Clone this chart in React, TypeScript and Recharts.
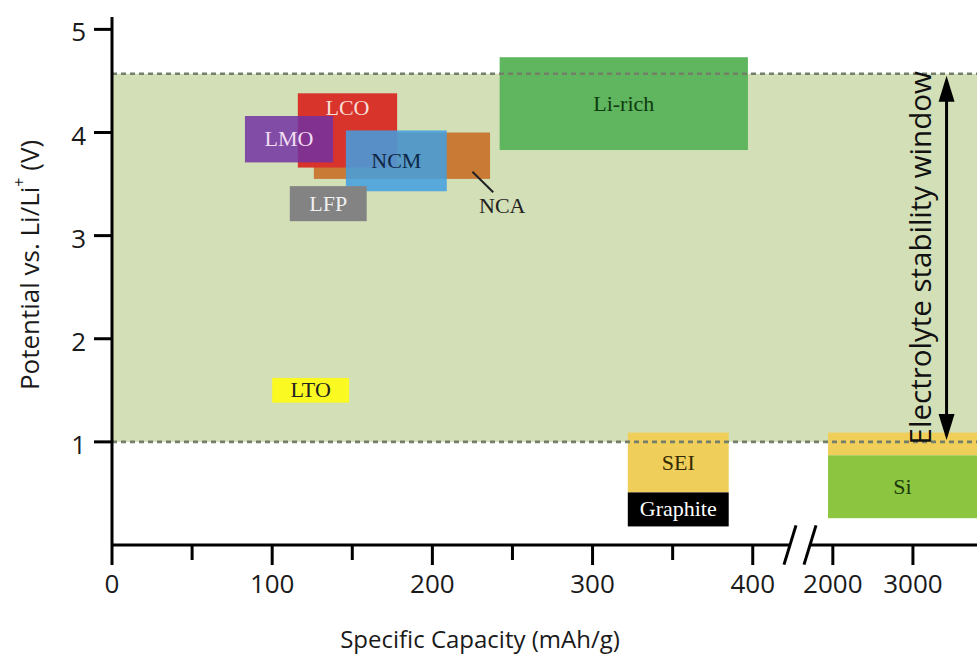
import React from 'react';
import { ComposedChart, XAxis, YAxis, ReferenceArea, ReferenceLine } from 'recharts';

// electrode materials: capacity range (mAh/g) and potential range (V vs Li/Li+)
const boxNames = ['NCA', 'LCO', 'LMO', 'NCM', 'LFP', 'Li-rich', 'LTO', 'SEI', 'Graphite', 'Si-SEI', 'Si'];
const capFrom = [126, 116, 83, 146, 111, 242, 100, 322, 322, 1940, 1940];
const capTo = [236, 178, 138, 209, 159, 397, 148, 385, 385, 3800, 3800];
const voltFrom = [3.55, 3.66, 3.71, 3.43, 3.14, 3.83, 1.38, 0.51, 0.18, 0.87, 0.26];
const voltTo = [4.0, 4.38, 4.16, 4.02, 3.48, 4.73, 1.62, 1.09, 0.51, 1.09, 0.87];

const windowVolts = [1.0, 4.57];
const yTicks = [1, 2, 3, 4, 5];
const xMajor = [0, 100, 200, 300, 400, 2000, 3000];
const xMinor = [50, 150, 250, 350];
const arrowCap = 3420;
const ncaLeader = [
  { cap: 225, v: 3.62 },
  { cap: 238, v: 3.42 },
];

// broken axis: 0-400 linear, then 2000+ compressed 20x
const toAxis = (c: number) => (c <= 400 ? c : 450 + (c - 2000) / 20);
const X_MAX = toAxis(3800);

const sans = '"Open Sans", "DejaVu Sans", sans-serif';
const serif = '"Liberation Serif", "DejaVu Serif", serif';

const boxStyle: Record<string, { fill: string; opacity?: number; label?: string; color?: string; top?: boolean }> = {
  NCA: { fill: '#c97b36' },
  LCO: { fill: '#d8342b', label: 'LCO', color: '#f8dcd6', top: true },
  LMO: { fill: '#7232a2', opacity: 0.85, label: 'LMO', color: '#f1dcf2' },
  NCM: { fill: '#42a0e2', opacity: 0.85, label: 'NCM', color: '#0d2745' },
  LFP: { fill: '#838383', label: 'LFP', color: '#f0f0f0' },
  'Li-rich': { fill: '#5fb65f', label: 'Li-rich', color: '#0f3a10' },
  LTO: { fill: '#fafa22', label: 'LTO', color: '#222' },
  SEI: { fill: '#efcf5a', label: 'SEI', color: '#352900' },
  Graphite: { fill: '#000', label: 'Graphite', color: '#fff' },
  'Si-SEI': { fill: '#efcf5a' },
  Si: { fill: '#8cc640', label: 'Si', color: '#1c3a0c' },
};

const majorLabel = new Map(xMajor.map((c) => [toAxis(c), c]));
const xTicks = [...xMajor, ...xMinor].map(toAxis).sort((a, b) => a - b);

function XTick(props: any) {
  const { x, y, payload } = props;
  const c = majorLabel.get(payload.value);
  const major = c !== undefined;
  return (
    <g>
      <line x1={x} x2={x} y1={y} y2={y + (major ? 20 : 15)} stroke="#000" strokeWidth={3} />
      {major && (
        <text x={x} y={y + 48} textAnchor="middle" fontFamily={sans} fontSize={26} fill="#1a1a1a">
          {c}
        </text>
      )}
    </g>
  );
}

function YTick(props: any) {
  const { x, y, payload } = props;
  return (
    <g>
      <line x1={x - 18} x2={x} y1={y} y2={y} stroke="#000" strokeWidth={3} />
      <text x={x - 26} y={y + 12} textAnchor="end" fontFamily={sans} fontSize={26} fill="#1a1a1a">
        {payload.value}
      </text>
    </g>
  );
}

function boxShape(name: string) {
  const st = boxStyle[name];
  return (p: any) => (
    <g>
      <rect x={p.x} y={p.y} width={p.width} height={p.height} fill={st.fill} fillOpacity={st.opacity ?? 1} />
      {st.label && (
        <text
          x={p.x + p.width / 2}
          y={st.top ? p.y + 22 : p.y + p.height / 2 + 7}
          textAnchor="middle"
          fontFamily={serif}
          fontSize={22}
          fill={st.color}
        >
          {st.label}
        </text>
      )}
    </g>
  );
}

function WindowFill(p: any) {
  return <rect x={p.x} y={p.y} width={p.width} height={p.height} fill="#d3dfb6" />;
}

// dashed edge of the stability window, drawn above the boxes
function DashedEdge(p: any) {
  return (
    <line
      x1={p.x1}
      x2={p.x2}
      y1={p.y1}
      y2={p.y2}
      stroke="#737f69"
      strokeWidth={2.6}
      strokeDasharray="5 4"
    />
  );
}

function ArrowShape(p: any) {
  const x = p.x1;
  const top = Math.min(p.y1, p.y2) + 2;
  const bot = Math.max(p.y1, p.y2) - 2;
  const mid = (top + bot) / 2;
  return (
    <g>
      <line x1={x} x2={x} y1={top + 20} y2={bot - 20} stroke="#000" strokeWidth={3} />
      <polygon points={`${x},${top} ${x - 8},${top + 26} ${x + 8},${top + 26}`} fill="#000" />
      <polygon points={`${x},${bot} ${x - 8},${bot - 26} ${x + 8},${bot - 26}`} fill="#000" />
      <text
        x={x - 27}
        y={mid}
        transform={`rotate(-90 ${x - 27} ${mid})`}
        textAnchor="middle"
        dominantBaseline="central"
        fontFamily={sans}
        fontSize={29.5}
        fill="#111"
      >
        Electrolyte stability window
      </text>
    </g>
  );
}

function NcaLeader(p: any) {
  return (
    <g>
      <line x1={p.x1} y1={p.y1} x2={p.x2} y2={p.y2} stroke="#222" strokeWidth={2} />
      <text x={p.x2 + 9} y={p.y2 + 21} textAnchor="middle" fontFamily={serif} fontSize={22} fill="#222">
        NCA
      </text>
    </g>
  );
}

function XTitle(p: any) {
  const vb = p.viewBox;
  return (
    <text x={vb.x + 368} y={vb.y + 103} textAnchor="middle" fontFamily={sans} fontSize={24} fill="#1a1a1a">
      Specific Capacity (mAh/g)
    </text>
  );
}

function YTitle() {
  const cx = 29;
  const cy = 265;
  return (
    <text
      x={cx}
      y={cy}
      transform={`rotate(-90 ${cx} ${cy})`}
      textAnchor="middle"
      dominantBaseline="central"
      fontFamily={sans}
      fontSize={26}
      fill="#1a1a1a"
    >
      Potential vs. Li/Li
      <tspan dy={-10} fontSize={16}>+</tspan>
      <tspan dy={10}> (V)</tspan>
    </text>
  );
}

export default function App() {
  // one keyed list so the drawing order is fixed: window fill, then the boxes
  const areas = [
    { key: 'window', x1: undefined, x2: undefined, y1: windowVolts[0], y2: windowVolts[1], shape: WindowFill },
    ...boxNames.map((name, i) => ({
      key: name,
      x1: toAxis(capFrom[i]),
      x2: toAxis(capTo[i]),
      y1: voltFrom[i],
      y2: voltTo[i],
      shape: boxShape(name),
    })),
  ];

  return (
    <div>
      <style>{'body{margin:0;background:#fff}'}</style>
      <ComposedChart width={977} height={656} margin={{ top: 17, right: 0, bottom: 6, left: 0 }}>
        <XAxis
          type="number"
          dataKey="x"
          domain={[0, X_MAX]}
          ticks={xTicks}
          interval={0}
          tick={<XTick />}
          tickLine={false}
          tickSize={0}
          tickMargin={0}
          axisLine={false}
          height={105}
          allowDataOverflow
          label={XTitle}
        />
        <YAxis
          type="number"
          dataKey="y"
          domain={[0, 5.12]}
          ticks={yTicks}
          interval={0}
          tick={<YTick />}
          tickLine={false}
          tickSize={0}
          tickMargin={0}
          axisLine={{ stroke: '#000', strokeWidth: 3 }}
          width={112}
          allowDataOverflow
          label={YTitle}
        />

        {areas.map((a) => (
          <ReferenceArea
            key={a.key}
            x1={a.x1}
            x2={a.x2}
            y1={a.y1}
            y2={a.y2}
            ifOverflow="visible"
            shape={a.shape}
          />
        ))}

        {windowVolts.map((v) => (
          <ReferenceLine key={`edge-${v}`} y={v} shape={DashedEdge} />
        ))}

        <ReferenceLine
          segment={[
            { x: toAxis(ncaLeader[0].cap), y: ncaLeader[0].v },
            { x: toAxis(ncaLeader[1].cap), y: ncaLeader[1].v },
          ]}
          shape={NcaLeader}
        />

        <ReferenceLine
          segment={[
            { x: toAxis(arrowCap), y: windowVolts[1] },
            { x: toAxis(arrowCap), y: windowVolts[0] },
          ]}
          shape={ArrowShape}
        />

        {/* x axis line with the break */}
        <ReferenceLine segment={[{ x: 0, y: 0 }, { x: 423.5, y: 0 }]} stroke="#000" strokeWidth={3} ifOverflow="visible" />
        <ReferenceLine segment={[{ x: 435.5, y: 0 }, { x: X_MAX, y: 0 }]} stroke="#000" strokeWidth={3} ifOverflow="visible" />
        <ReferenceLine segment={[{ x: 419.5, y: -0.19 }, { x: 427, y: 0.19 }]} stroke="#000" strokeWidth={3} ifOverflow="visible" />
        <ReferenceLine segment={[{ x: 432, y: -0.19 }, { x: 439.5, y: 0.19 }]} stroke="#000" strokeWidth={3} ifOverflow="visible" />
      </ComposedChart>
    </div>
  );
}
